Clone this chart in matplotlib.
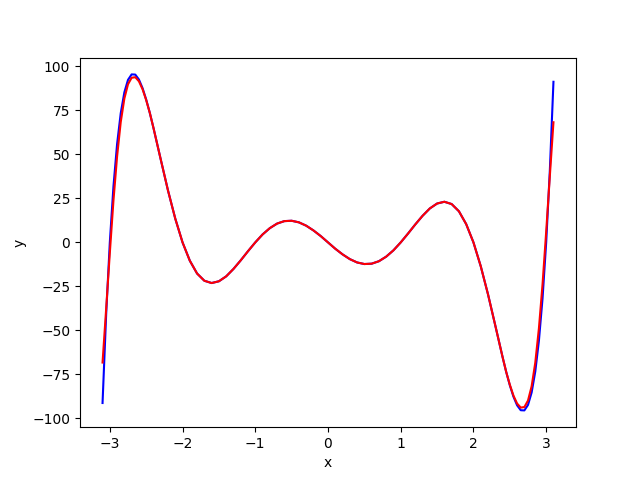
"""Polynomial target vs fitted curve on [-3.1, 3.1].

Output: out.png
"""

import matplotlib

matplotlib.use("Agg")
import matplotlib.pyplot as plt

# Sample positions (finer spacing near the steep ends)
X = [
    -3.1, -3.05, -3.0, -2.95, -2.9, -2.85, -2.8, -2.75, -2.7, -2.65, -2.6,
    -2.55, -2.5, -2.45, -2.4, -2.3, -2.2, -2.1, -2.0, -1.9, -1.8, -1.7,
    -1.6, -1.5, -1.4, -1.3, -1.2, -1.1, -1.0, -0.9, -0.8, -0.7, -0.6,
    -0.5, -0.4, -0.3, -0.2, -0.1, 0.0, 0.1, 0.2, 0.3, 0.4, 0.5, 0.6,
    0.7, 0.8, 0.9, 1.0, 1.1, 1.2, 1.3, 1.4, 1.5, 1.6, 1.7, 1.8, 1.9,
    2.0, 2.1, 2.2, 2.3, 2.4, 2.45, 2.5, 2.55, 2.6, 2.65, 2.7, 2.75, 2.8,
    2.85, 2.9, 2.95, 3.0, 3.05, 3.1,
]

# Blue: true curve
Y_TRUE = [
    -91.3, -40.6, 0.0, 31.8, 55.9, 73.4, 85.3, 92.4, 95.5, 95.4, 92.6,
    87.7, 81.2, 73.6, 65.1, 47.2, 29.5, 13.5, 0.0, -10.4, -17.7, -21.8,
    -23.1, -22.1, -19.3, -15.1, -10.2, -5.0, 0.0, 4.5, 8.1, 10.7, 12.1,
    12.3, 11.4, 9.5, 6.8, 3.6, 0.0, -3.6, -6.8, -9.5, -11.4, -12.3, -12.1,
    -10.7, -8.1, -4.5, 0.0, 5.0, 10.2, 15.1, 19.3, 22.1, 23.1, 21.8, 17.7,
    10.4, 0.0, -13.5, -29.5, -47.2, -65.1, -73.6, -81.2, -87.7, -92.6,
    -95.4, -95.5, -92.4, -85.3, -73.4, -55.9, -31.8, 0.0, 40.6, 91.3,
]

# Red: fitted curve
Y_FIT = [
    -68.3, -37.6, -6.0, 23.8, 48.9, 68.4, 81.8, 89.9, 93.6, 93.9, 91.6,
    87.1, 80.9, 73.6, 65.1, 47.2, 29.5, 13.5, 0.0, -10.4, -17.7, -21.8,
    -23.1, -22.1, -19.3, -15.1, -10.2, -5.0, 0.0, 4.5, 8.1, 10.7, 12.1,
    12.3, 11.4, 9.5, 6.8, 3.6, 0.0, -3.6, -6.8, -9.5, -11.4, -12.3, -12.1,
    -10.7, -8.1, -4.5, 0.0, 5.0, 10.2, 15.1, 19.3, 22.1, 23.1, 21.8, 17.7,
    10.4, 0.0, -13.5, -29.5, -47.2, -65.1, -73.6, -80.9, -87.1, -91.6,
    -93.9, -93.6, -89.9, -81.8, -68.4, -48.9, -23.8, 6.0, 37.6, 68.3,
]


def main() -> None:
    fig, ax = plt.subplots(figsize=(6.4, 4.8), dpi=100)
    ax.plot(X, Y_TRUE, color="blue")
    ax.plot(X, Y_FIT, color="red")
    ax.set_xlabel("x")
    ax.set_ylabel("y")
    fig.savefig("out.png", dpi=100)


if __name__ == "__main__":
    main()
